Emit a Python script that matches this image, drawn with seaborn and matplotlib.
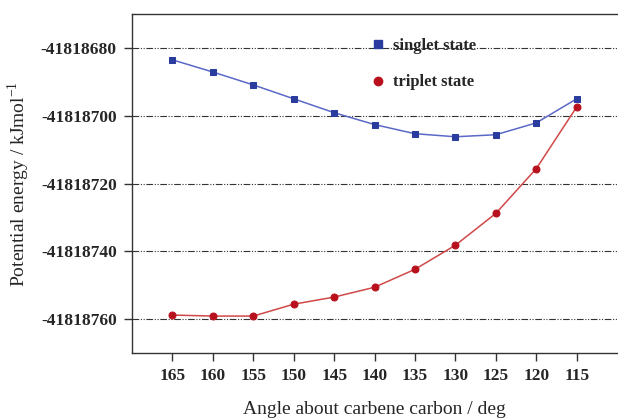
import numpy as np
import pandas as pd
import seaborn as sns
import matplotlib.pyplot as plt
from matplotlib.lines import Line2D
from matplotlib.ticker import FuncFormatter

angles = [165, 160, 155, 150, 145, 140, 135, 130, 125, 120, 115]
singlet = [-41818683.5, -41818687.1, -41818690.9, -41818695.0, -41818699.1, -41818702.6,
           -41818705.3, -41818706.2, -41818705.6, -41818702.1, -41818695.0]
triplet = [-41818758.8, -41818759.1, -41818759.1, -41818755.6, -41818753.5, -41818750.6,
           -41818745.3, -41818738.2, -41818728.8, -41818715.6, -41818697.4]
yticks = [-41818680, -41818700, -41818720, -41818740, -41818760]

sns.set_style("ticks")
plt.rcParams['font.family'] = ['Liberation Serif', 'DejaVu Serif']

df = pd.DataFrame({"angle": angles, "singlet": singlet, "triplet": triplet})

fig = plt.figure(figsize=(6.18, 4.2), dpi=100)
ax = fig.add_axes([0.2136, 0.1595, 0.785, 0.807])

sns.lineplot(data=df, x="angle", y="singlet", ax=ax, color="#5a68c6", lw=1.1,
             marker="s", markersize=5, markerfacecolor="#2a3c9e", markeredgecolor="#2a3c9e")
sns.lineplot(data=df, x="angle", y="triplet", ax=ax, color="#d04848", lw=1.1,
             marker="o", markersize=5, markerfacecolor="#b8101c", markeredgecolor="#b8101c")

ax.set_xlim(170, 110)
ax.set_ylim(-41818770, -41818670)
ax.set_xticks(angles)
ax.set_yticks(yticks)
ax.yaxis.set_major_formatter(FuncFormatter(lambda v, p: f"{int(round(v))}"))
ax.grid(axis="y", color="#333333", lw=0.8, linestyle=(0, (6, 1.5, 1, 1.5, 1, 1.5)))
ax.set_axisbelow(True)

for s in ["left", "bottom", "top"]:
    ax.spines[s].set_color("#333333")
    ax.spines[s].set_linewidth(1.0)
ax.spines["right"].set_visible(False)

ax.tick_params(axis="both", direction="out", length=6, width=1, color="#333333",
               labelsize=12.5, pad=5)
for lab in ax.get_xticklabels() + ax.get_yticklabels():
    lab.set_fontweight("bold")

ax.set_xlabel("Angle about carbene carbon / deg", fontsize=14, labelpad=12)
ax.set_ylabel("Potential energy / kJmol$^{\\mathregular{-1}}$", fontsize=14, labelpad=6)

handles = [
    Line2D([], [], ls="none", marker="s", markersize=6, color="#2a3c9e"),
    Line2D([], [], ls="none", marker="o", markersize=6, color="#b8101c"),
]
ax.legend(handles, ["singlet state", "triplet state"], frameon=False,
          loc="upper left", bbox_to_anchor=(0.46, 0.975),
          prop={"weight": "bold", "size": 12}, handletextpad=0.4, labelspacing=1.25,
          handlelength=1.0)

fig.savefig("out.png", dpi=100)
